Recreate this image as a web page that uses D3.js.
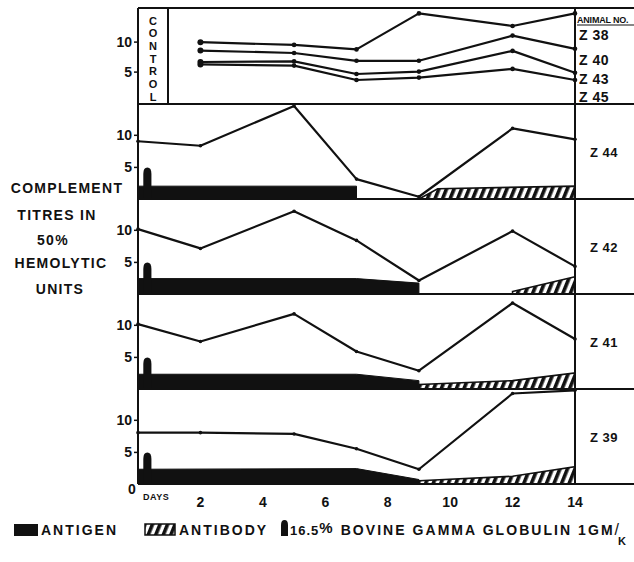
<!DOCTYPE html>
<html>
<head>
<meta charset="utf-8">
<script src="https://cdn.jsdelivr.net/npm/d3@7"></script>
<style>
    body { margin: 0; background: #fff; }
    svg { display: block; }
    text { font-family: "Liberation Sans", Arial, sans-serif; font-weight: bold; fill: #111; }
</style>
</head>
<body>
<div id="chart"></div>
<script>
// days on which titres were taken
const controlDays = [2, 5, 7, 9, 12, 14];
const treatedDays = [0, 2, 5, 7, 9, 12, 14];
const dayTicks = [2, 4, 6, 8, 10, 12, 14];
const yTicks = [5, 10];

// control animals, top panel
const controlNames = ["Z 38", "Z 40", "Z 43", "Z 45"];
const controlZ38 = [9.9, 9.45, 8.7, 14.7, 12.6, 14.7];
const controlZ40 = [8.5, 8.1, 6.8, 6.8, 11.0, 8.8];
const controlZ43 = [6.6, 6.7, 4.6, 5.0, 8.45, 4.8];
const controlZ45 = [6.2, 6.0, 3.6, 4.0, 5.45, 3.6];

// treated animals, one panel each
const treatedNames = ["Z 44", "Z 42", "Z 41", "Z 39"];
const titreZ44 = [9.0, 8.3, 14.5, 3.1, 0.35, 11.0, 9.3];
const titreZ42 = [10.1, 7.1, 12.9, 8.35, 2.1, 9.8, 4.3];
const titreZ41 = [10.1, 7.4, 11.7, 5.85, 2.85, 13.4, 7.8];
const titreZ39 = [8.0, 8.0, 7.8, 5.5, 2.3, 14.1, 14.6];

// antigen and antibody bands as [day, level]
const antigenZ44 = [[0, 2.0], [7, 2.0]];
const antigenZ42 = [[0, 2.4], [7, 2.4], [9, 1.7]];
const antigenZ41 = [[0, 2.3], [7, 2.3], [9, 1.3]];
const antigenZ39 = [[0, 2.3], [7, 2.4], [9, 0.7]];
const antibodyZ44 = [[9, 0], [9.6, 1.6], [14, 2.0]];
const antibodyZ42 = [[12, 0.4], [14, 2.7]];
const antibodyZ41 = [[9, 0.7], [12, 1.3], [14, 2.5]];
const antibodyZ39 = [[9, 0.5], [12, 1.2], [14, 2.7]];

// bovine gamma globulin injection
const injectionDay = 0.3;
const injectionHeight = 4.9;

class complementChart {
    constructor(parentElement) {
        this.parentElement = parentElement;
        this.controlSeries = [controlZ38, controlZ40, controlZ43, controlZ45];
        let titres = [titreZ44, titreZ42, titreZ41, titreZ39];
        let antigens = [antigenZ44, antigenZ42, antigenZ41, antigenZ39];
        let antibodies = [antibodyZ44, antibodyZ42, antibodyZ41, antibodyZ39];
        this.treated = treatedNames.map((name, i) => ({
            name: name, titre: titres[i], antigen: antigens[i], antibody: antibodies[i]
        }));
        this.initVis();
    }

    initVis() {
        let vis = this;
        vis.width = 634;
        vis.height = 562;
        vis.left = 138;
        vis.right = 575;
        vis.edge = 634;
        vis.top = 8;
        vis.panelTop = 104;
        vis.panelH = 95;
        vis.bottom = vis.panelTop + 4 * vis.panelH;

        vis.svg = d3.select("#" + vis.parentElement).append("svg")
            .attr("width", vis.width)
            .attr("height", vis.height);

        let defs = vis.svg.append("defs");
        let pat = defs.append("pattern")
            .attr("id", "hatch")
            .attr("patternUnits", "userSpaceOnUse")
            .attr("width", 7)
            .attr("height", 7)
            .attr("patternTransform", "rotate(22)");
        pat.append("rect").attr("width", 7).attr("height", 7).attr("fill", "#fff");
        pat.append("rect").attr("width", 3.6).attr("height", 7).attr("fill", "#111");

        vis.x = d3.scaleLinear().domain([0, 14]).range([vis.left, vis.right]);

        vis.line = d3.line();

        vis.drawControl();
        vis.treated.forEach((d, i) => vis.drawPanel(d, i));
        vis.drawFrame();
        vis.drawLabels();
        vis.drawLegend();
    }

    drawControl() {
        let vis = this;
        let y = d3.scaleLinear().domain([-0.4, 15.6]).range([vis.panelTop, vis.top]);
        let g = vis.svg.append("g").attr("class", "control");

        g.selectAll(".ctrl-line")
            .data(vis.controlSeries)
            .enter().append("path")
            .attr("class", "ctrl-line")
            .attr("fill", "none")
            .attr("stroke", "#111")
            .attr("stroke-width", 2.2)
            .attr("stroke-linejoin", "round")
            .attr("d", s => vis.line(s.map((v, i) => [vis.x(controlDays[i]), y(v)])));

        vis.controlSeries.forEach(s => {
            g.selectAll(null)
                .data(s)
                .enter().append("circle")
                .attr("cx", (v, i) => vis.x(controlDays[i]))
                .attr("cy", v => y(v))
                .attr("r", (v, i) => i === 0 ? 3 : 2.3)
                .attr("fill", "#111");
        });

        vis.drawYAxis(g, y);
    }

    drawPanel(d, i) {
        let vis = this;
        let bottom = vis.panelTop + (i + 1) * vis.panelH;
        let y = d3.scaleLinear().domain([0, 14.8]).range([bottom, bottom - vis.panelH]);
        let g = vis.svg.append("g").attr("class", "panel");

        let area = d3.area()
            .x(p => vis.x(p[0]))
            .y0(y(0))
            .y1(p => y(p[1]));

        g.append("path")
            .attr("d", area(d.antigen))
            .attr("fill", "#111")
            .attr("stroke", "#111")
            .attr("stroke-width", 1);

        g.append("path")
            .attr("d", area(d.antibody))
            .attr("fill", "url(#hatch)")
            .attr("stroke", "#111")
            .attr("stroke-width", 1.6);

        // injection marker
        let bx = vis.x(injectionDay);
        let hw = vis.x(injectionDay + 0.13) - bx;
        let yb = y(0), ys = y(injectionHeight - 1), yt = y(injectionHeight);
        g.append("path")
            .attr("d", `M${bx - hw},${yb} L${bx - hw},${ys} Q${bx - hw},${yt} ${bx},${yt} Q${bx + hw},${yt} ${bx + hw},${ys} L${bx + hw},${yb} Z`)
            .attr("fill", "#111");

        g.append("path")
            .attr("fill", "none")
            .attr("stroke", "#111")
            .attr("stroke-width", 2.2)
            .attr("stroke-linejoin", "round")
            .attr("d", vis.line(d.titre.map((v, j) => [vis.x(treatedDays[j]), y(v)])));

        g.selectAll("circle")
            .data(d.titre)
            .enter().append("circle")
            .attr("cx", (v, j) => vis.x(treatedDays[j]))
            .attr("cy", v => y(v))
            .attr("r", 1.8)
            .attr("fill", "#111");

        vis.drawYAxis(g, y);

        g.append("text")
            .attr("x", 590)
            .attr("y", bottom - vis.panelH / 2 + 5)
            .attr("font-size", 13)
            .attr("letter-spacing", 0.5)
            .text(d.name);
    }

    drawYAxis(g, y) {
        let vis = this;
        let ax = g.append("g")
            .attr("transform", "translate(" + vis.left + ",0)")
            .call(d3.axisLeft(y).tickValues(yTicks).tickSize(4).tickPadding(2));
        ax.select(".domain").remove();
        ax.selectAll("line").attr("stroke", "#111").attr("stroke-width", 1.5);
        ax.selectAll("text")
            .attr("font-size", 14)
            .attr("font-family", "Liberation Sans, Arial, sans-serif")
            .attr("font-weight", "bold")
            .attr("fill", "#111");
    }

    drawFrame() {
        let vis = this;
        let f = vis.svg.append("g")
            .attr("stroke", "#111")
            .attr("stroke-width", 2)
            .attr("fill", "none");
        let rows = [vis.top].concat(d3.range(5).map(k => vis.panelTop + k * vis.panelH));
        rows.forEach(r => f.append("line").attr("x1", vis.left).attr("x2", vis.edge).attr("y1", r).attr("y2", r));
        f.append("line").attr("x1", vis.left).attr("x2", vis.left).attr("y1", vis.top).attr("y2", vis.bottom);
        f.append("line").attr("x1", vis.right).attr("x2", vis.right).attr("y1", vis.top).attr("y2", vis.bottom);
        f.append("line").attr("x1", 168).attr("x2", 168).attr("y1", vis.top).attr("y2", vis.panelTop);
    }

    drawLabels() {
        let vis = this;

        // CONTROL written downwards
        "CONTROL".split("").forEach((c, i) => {
            vis.svg.append("text")
                .attr("x", 153)
                .attr("y", 24.5 + i * 12.67)
                .attr("text-anchor", "middle")
                .attr("font-size", 11)
                .text(c);
        });

        vis.svg.append("text")
            .attr("x", 577)
            .attr("y", 23)
            .attr("font-size", 9)
            .attr("letter-spacing", -0.2)
            .text("ANIMAL NO.");
        vis.svg.append("line")
            .attr("x1", 577).attr("x2", vis.edge)
            .attr("y1", 25).attr("y2", 25)
            .attr("stroke", "#111").attr("stroke-width", 1.2);

        let ctrlLabelY = [40, 64.5, 83.5, 102];
        controlNames.forEach((n, i) => {
            vis.svg.append("text")
                .attr("x", 579)
                .attr("y", ctrlLabelY[i])
                .attr("font-size", 14)
                .attr("font-weight", "normal")
                .attr("letter-spacing", 0.5)
                .text(n);
        });

        // y title on the left
        let title = [
            {t: "COMPLEMENT", x: 67, y: 193},
            {t: "TITRES IN", x: 57, y: 220},
            {t: "50%", x: 53, y: 245},
            {t: "HEMOLYTIC", x: 61, y: 268},
            {t: "UNITS", x: 60, y: 294}
        ];
        vis.svg.selectAll(".ytitle")
            .data(title)
            .enter().append("text")
            .attr("class", "ytitle")
            .attr("x", d => d.x)
            .attr("y", d => d.y)
            .attr("text-anchor", "middle")
            .attr("font-size", 14)
            .attr("letter-spacing", 1.3)
            .text(d => d.t);

        // x axis labels
        vis.svg.selectAll(".xtick")
            .data(dayTicks)
            .enter().append("text")
            .attr("class", "xtick")
            .attr("x", d => vis.x(d))
            .attr("y", 507)
            .attr("text-anchor", "middle")
            .attr("font-size", 14)
            .text(d => d);

        vis.svg.append("text")
            .attr("x", 132).attr("y", 494)
            .attr("text-anchor", "middle")
            .attr("font-size", 14)
            .text("0");
        vis.svg.append("text")
            .attr("x", 143).attr("y", 500)
            .attr("font-size", 9)
            .attr("letter-spacing", 0.5)
            .text("DAYS");
    }

    drawLegend() {
        let vis = this;
        let ly = 535;
        let lg = vis.svg.append("g").attr("class", "legend");

        lg.append("rect")
            .attr("x", 14).attr("y", ly - 11).attr("width", 24).attr("height", 12)
            .attr("fill", "#111");
        lg.append("text")
            .attr("x", 41).attr("y", ly)
            .attr("font-size", 14).attr("letter-spacing", 2)
            .text("ANTIGEN");

        lg.append("rect")
            .attr("x", 145).attr("y", ly - 11).attr("width", 30).attr("height", 11)
            .attr("fill", "url(#hatch)")
            .attr("stroke", "#111").attr("stroke-width", 1.5);
        lg.append("text")
            .attr("x", 179).attr("y", ly)
            .attr("font-size", 14).attr("letter-spacing", 2)
            .text("ANTIBODY");

        let bx = 284.5, hw = 3.5;
        lg.append("path")
            .attr("d", `M${bx - hw},${ly + 1} L${bx - hw},${ly - 10} Q${bx - hw},${ly - 15} ${bx},${ly - 15} Q${bx + hw},${ly - 15} ${bx + hw},${ly - 10} L${bx + hw},${ly + 1} Z`)
            .attr("fill", "#111");

        let t = lg.append("text")
            .attr("x", 290).attr("y", ly)
            .attr("font-size", 14).attr("letter-spacing", 2.05);
        t.append("tspan").attr("font-size", 13).attr("letter-spacing", 1).text("16.5");
        t.append("tspan").attr("dy", -2).attr("font-size", 15).text("%");
        t.append("tspan").attr("dy", 2).text(" BOVINE GAMMA GLOBULIN 1GM");
        t.append("tspan").attr("font-weight", "normal").attr("font-size", 16).attr("letter-spacing", 0).text("/");
        t.append("tspan").attr("dy", 10).attr("dx", -1).attr("font-size", 11).attr("letter-spacing", 0).text("K");
    }
}

new complementChart("chart");
</script>
</body>
</html>
